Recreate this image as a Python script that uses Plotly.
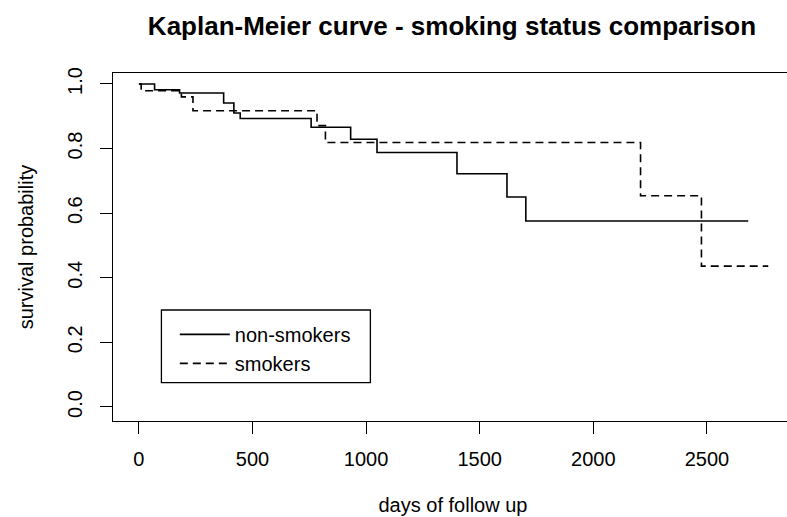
import plotly.graph_objects as go

# Kaplan-Meier step data (days, survival probability)
nonsmoker_days = [0, 69, 179, 373, 418, 446, 758, 932, 1048, 1400, 1620, 1703, 2682]
nonsmoker_surv = [1.0, 0.982, 0.972, 0.941, 0.910, 0.893, 0.866, 0.829, 0.788, 0.722, 0.650, 0.576, 0.576]

smoker_days = [0, 10, 187, 238, 784, 821, 2208, 2476, 2770]
smoker_surv = [1.0, 0.979, 0.960, 0.917, 0.871, 0.819, 0.654, 0.436, 0.436]

x_ticks = [0, 500, 1000, 1500, 2000, 2500]
y_ticks = [0.0, 0.2, 0.4, 0.6, 0.8, 1.0]

FONT = "Liberation Sans, Arial, Helvetica, sans-serif"

# the plot box runs a little past the right edge of the 787px window, as in the reference
W, H = 795, 517

fig = go.Figure()
fig.add_trace(go.Scatter(
    x=nonsmoker_days, y=nonsmoker_surv, mode="lines", line_shape="hv",
    name="non-smokers", line=dict(color="black", width=1.6)))
fig.add_trace(go.Scatter(
    x=smoker_days, y=smoker_surv, mode="lines", line_shape="hv",
    name="smokers", line=dict(color="black", width=1.6, dash="8px,5px")))

fig.update_layout(
    width=W, height=H,
    margin=dict(l=113, r=2, t=73, b=96, autoexpand=False),
    paper_bgcolor="white", plot_bgcolor="white",
    font=dict(family=FONT, size=20, color="black"),
    title=dict(text="<b>Kaplan-Meier curve - smoking status comparison</b>",
               x=452 / W, xanchor="center", y=1 - 26 / H, yanchor="middle",
               font=dict(size=26, family=FONT, color="black")),
    showlegend=True,
    legend=dict(x=0.0909, y=0.305, xanchor="left", yanchor="top",
                bgcolor="rgba(0,0,0,0)", borderwidth=0, itemwidth=50,
                font=dict(size=20, family=FONT, color="black"),
                tracegroupgap=0),
    shapes=[dict(type="rect", xref="paper", yref="paper",
                 x0=0.0712, x1=0.3785, y0=0.110, y1=0.319,
                 line=dict(color="black", width=1.3), fillcolor="rgba(0,0,0,0)")],
)

fig.update_xaxes(
    range=[-114, 2879], tickvals=x_ticks, ticks="outside", ticklen=12, tickwidth=1.3,
    tickcolor="black", showgrid=False, zeroline=False, showline=True, mirror=True,
    linecolor="black", linewidth=1.3, ticklabelstandoff=8, automargin=False,
    title=dict(text="days of follow up", standoff=28, font=dict(size=20)))
fig.update_yaxes(
    range=[-0.0434, 1.034], tickvals=y_ticks, tickformat=".1f", tickangle=-90,
    ticks="outside", ticklen=12, tickwidth=1.3, tickcolor="black",
    showgrid=False, zeroline=False, showline=True, mirror=True,
    linecolor="black", linewidth=1.3, ticklabelstandoff=10, automargin=False,
    title=dict(text="survival probability", standoff=24, font=dict(size=20)))

fig.write_html(
    "out.html",
    config={"displayModeBar": False},
    post_script="document.documentElement.style.overflow='hidden';"
                "document.body.style.margin='0';document.body.style.overflow='hidden';")
